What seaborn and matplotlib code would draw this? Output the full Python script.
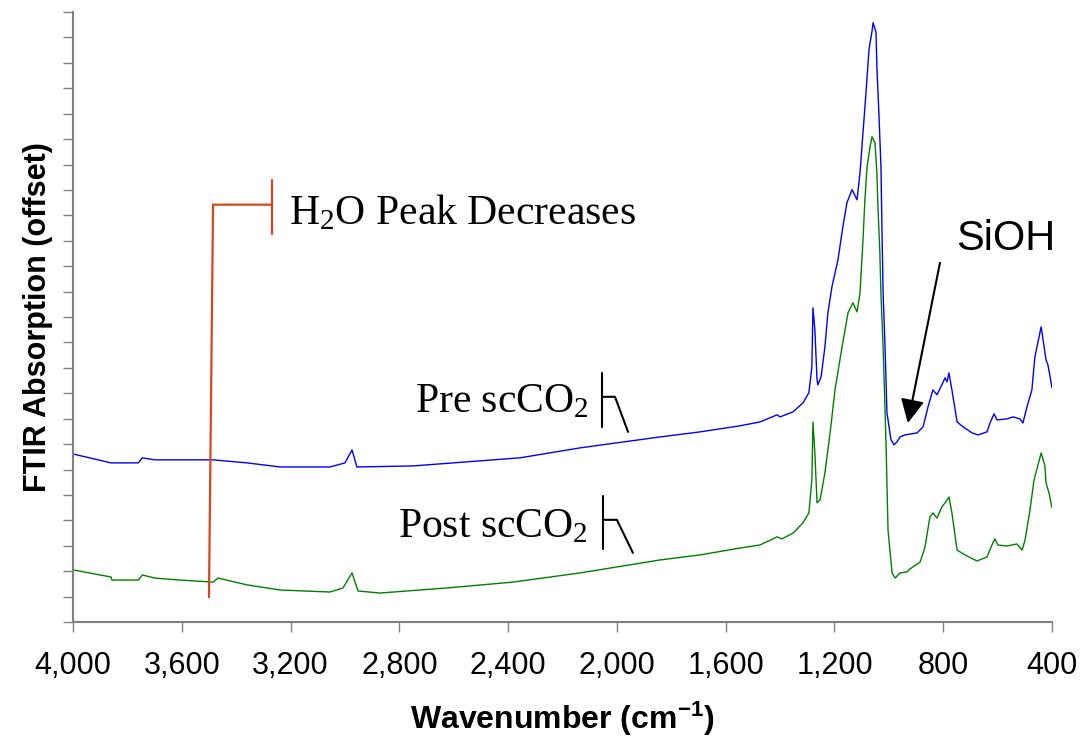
import matplotlib
matplotlib.use("Agg")
import matplotlib.pyplot as plt
import seaborn as sns
import numpy as np
import pandas as pd
from matplotlib.ticker import FuncFormatter, MultipleLocator

# ---------------- data ----------------
pre_wn = [4000, 3860, 3760, 3745, 3700, 3607, 3485, 3360, 3239, 3055, 3000, 2974, 2956,
          2750, 2503, 2356, 2136, 1842, 1694, 1547, 1474, 1411, 1400, 1352, 1316, 1294,
          1283, 1279, 1272, 1264, 1261, 1249, 1235, 1224, 1209, 1187, 1169, 1154, 1135,
          1117, 1106, 1095, 1084, 1073, 1062, 1058, 1047, 1044, 1036, 1029, 1025, 1021,
          1014, 1007, 992, 981, 970, 959, 941, 896, 874, 856, 838, 823, 805, 793, 786,
          779, 768, 749, 727, 694, 672, 639, 628, 613, 602, 566, 543, 518, 507, 492, 474,
          463, 440, 429, 422, 415, 407, 400]
pre_abs = [6.61, 6.26, 6.26, 6.46, 6.38, 6.38, 6.38, 6.26, 6.10, 6.10, 6.26, 6.77, 6.10,
           6.14, 6.34, 6.46, 6.85, 7.28, 7.48, 7.72, 7.87, 8.15, 8.07, 8.27, 8.62, 9.02,
           10.04, 12.36, 11.50, 9.53, 9.33, 9.65, 10.83, 12.17, 13.20, 14.25, 15.55, 16.50, 17.01,
           16.61, 17.68, 19.25, 20.83, 22.52, 23.23, 23.58, 23.19, 21.85, 19.88, 17.91, 15.31, 12.90,
           10.83, 8.23, 7.17, 6.97, 7.09, 7.28, 7.36, 7.44, 7.68, 8.46, 9.13, 8.94, 9.33, 9.61, 9.45,
           9.80, 9.13, 7.87, 7.68, 7.44, 7.36, 7.48, 7.83, 8.19, 7.95, 7.99, 8.07, 7.99, 7.83, 8.46, 9.13,
           10.43, 11.61, 10.83, 10.31, 10.12, 9.65, 9.21]

post_wn = [4000, 3860, 3857, 3760, 3745, 3700, 3607, 3485, 3467, 3360, 3239, 3055, 3007, 2974,
           2952, 2871, 2625, 2382, 2136, 1842, 1694, 1547, 1474, 1411, 1393, 1352, 1316, 1294,
           1283, 1279, 1272, 1264, 1253, 1235, 1216, 1198, 1172, 1150, 1132, 1117, 1106, 1095,
           1088, 1080, 1069, 1062, 1051, 1044, 1040, 1033, 1029, 1021, 1010, 1003, 988, 977,
           959, 933, 922, 885, 867, 849, 838, 823, 805, 793, 779, 768, 749, 720, 676, 639,
           621, 610, 599, 566, 529, 510, 499, 481, 466, 440, 426, 422, 411, 400]
post_abs = [2.05, 1.77, 1.65, 1.65, 1.85, 1.73, 1.65, 1.57, 1.73, 1.46, 1.26, 1.18, 1.34, 1.93,
            1.22, 1.14, 1.34, 1.57, 1.93, 2.44, 2.64, 2.91, 3.03, 3.35, 3.27, 3.50, 3.90, 4.29,
            5.59, 7.87, 6.65, 4.69, 4.80, 5.87, 7.44, 9.13, 10.83, 12.17, 12.56, 12.20, 12.95, 15.04,
            16.61, 17.91, 18.70, 19.09, 18.86, 17.68, 16.34, 14.53, 12.87, 10.83, 6.89, 3.62, 1.93, 1.73,
            1.93, 1.97, 2.09, 2.36, 2.95, 4.13, 4.29, 4.09, 4.53, 4.69, 4.92, 4.29, 2.83, 2.64, 2.40, 2.56,
            3.03, 3.27, 3.03, 2.99, 3.07, 2.83, 3.23, 4.41, 5.59, 6.65, 6.14, 5.47, 5.08, 4.49]

x_ticks = [4000, 3600, 3200, 2800, 2400, 2000, 1600, 1200, 800, 400]
series_labels = ["Pre scCO$_2$", "Post scCO$_2$"]
series_colors = ["#0000ff", "#008000"]

# ---------------- figure ----------------
sns.set_style("white")
plt.rcParams["font.family"] = ["Liberation Sans", "DejaVu Sans"]
plt.rcParams["mathtext.default"] = "regular"
plt.rcParams["text.color"] = "black"
plt.rcParams["axes.labelcolor"] = "black"
plt.rcParams["xtick.labelcolor"] = "black"

fig = plt.figure(figsize=(10.83, 7.47), dpi=100)
ax = fig.add_axes([73 / 1083, 1 - 622 / 747, (1052 - 73) / 1083, (622 - 12) / 747])

df_pre = pd.DataFrame({"wn": pre_wn, "abs": pre_abs})
df_post = pd.DataFrame({"wn": post_wn, "abs": post_abs})
sns.lineplot(data=df_pre, x="wn", y="abs", ax=ax, color=series_colors[0], linewidth=1.0,
             sort=False, estimator=None)
sns.lineplot(data=df_post, x="wn", y="abs", ax=ax, color=series_colors[1], linewidth=1.0,
             sort=False, estimator=None)

ax.set_xlim(4000, 400)
ax.set_ylim(0, 24)
ax.set_xticks(x_ticks)
ax.xaxis.set_major_formatter(FuncFormatter(lambda v, p: f"{int(v):,}"))
ax.yaxis.set_major_locator(MultipleLocator(1))
ax.set_yticklabels([])

for s in ["top", "right"]:
    ax.spines[s].set_visible(False)
for s in ["left", "bottom"]:
    ax.spines[s].set_color("#808080")
    ax.spines[s].set_linewidth(1.5)

ax.tick_params(axis="x", direction="out", length=7, width=1.0, color="#808080",
               labelcolor="black", labelsize=22, pad=14, bottom=True)
ax.tick_params(axis="y", direction="out", length=7, width=1.0, color="#808080", left=True)

ax.set_xlabel("Wavenumber (cm$^{-1}$)", fontsize=23, fontweight="bold", labelpad=13,
              color="black")
ax.set_ylabel("FTIR Absorption (offset)", fontsize=22, fontweight="bold", labelpad=4,
              color="black")

# ---------------- annotations ----------------
red = "#d8461c"
ax.plot([3500, 3485, 3268], [0.98, 16.42, 16.42], color=red, lw=1.6, solid_joinstyle="miter")
ax.plot([3268, 3268], [15.28, 17.40], color=red, lw=1.6)
ax.text(3206, 15.63, "H$_2$O Peak Decreases", family=["Liberation Serif"], fontsize=30,
        ha="left", va="baseline", color="black")

ax.text(2105, 8.27, series_labels[0], family=["Liberation Serif"], fontsize=30,
        ha="right", va="baseline", color="black")
ax.plot([2055, 2055], [7.68, 9.80], color="black", lw=1.5)
ax.plot([2055, 2007, 1959], [8.86, 8.86, 7.48], color="black", lw=1.5)

ax.text(2105, 3.35, series_labels[1], family=["Liberation Serif"], fontsize=30,
        ha="right", va="baseline", color="black")
ax.plot([2051, 2051], [2.87, 4.96], color="black", lw=1.5)
ax.plot([2051, 2000, 1941], [4.02, 4.02, 2.72], color="black", lw=1.5)

ax.text(570, 14.65, "SiOH", fontsize=30, ha="center", va="baseline", color="black")
ax.annotate("", xy=(930, 7.83), xytext=(812, 14.13),
            arrowprops=dict(arrowstyle="-|>,head_length=0.9,head_width=0.45",
                            mutation_scale=16, color="black", lw=1.5, shrinkA=0, shrinkB=0))

fig.savefig("out.png", dpi=100)
